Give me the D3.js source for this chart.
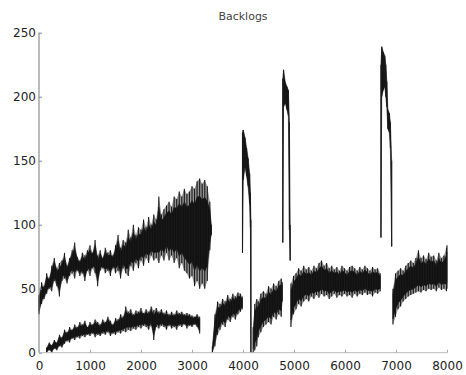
<!DOCTYPE html>
<html>
<head>
<meta charset="utf-8">
<script src="https://cdn.jsdelivr.net/npm/d3@7"></script>
<style>
  html, body { margin: 0; padding: 0; background: #fff; }
  svg { display: block; }
  .tick text { font-family: "DejaVu Sans", sans-serif; font-size: 12px; fill: #222; }
</style>
</head>
<body>
<svg id="chart" width="466" height="375"></svg>
<script>
// ---- data: envelope of the backlog trace, [x, high, low] ----
const xTicks = [0, 1000, 2000, 3000, 4000, 5000, 6000, 7000, 8000];
const yTicks = [0, 50, 100, 150, 200, 250];
const titleText = "Backlogs";

const upperA = [
  [0,45,30],[50,55,38],[100,52,42],[150,62,46],[200,58,50],[250,68,48],[300,74,56],[350,66,52],
  [400,70,44],[450,72,56],[500,78,58],[550,68,54],[600,74,60],[650,80,62],[700,86,58],[750,75,64],
  [800,72,60],[850,78,62],[900,76,56],[950,80,64],[1000,84,60],[1050,78,66],[1100,88,62],[1150,76,52],
  [1200,80,64],[1250,74,66],[1300,82,62],[1350,78,64],[1400,80,60],[1450,76,66],[1500,84,62],[1550,92,64],
  [1600,82,58],[1650,88,66],[1700,86,62],[1750,96,60],[1800,90,68],[1850,100,64],[1900,92,70],[1950,98,66],
  [2000,96,72],[2050,104,68],[2100,98,74],[2150,106,70],[2200,100,76],[2250,108,72],[2300,104,74],[2350,122,70],
  [2400,108,76],[2450,112,72],[2500,115,78],[2550,118,72],[2600,114,76],[2650,122,70],[2700,120,74],[2750,126,66],
  [2800,122,70],[2850,128,64],[2900,124,62],[2950,126,58],[3000,130,60],[3050,128,52],[3100,134,56],[3150,136,50],
  [3200,132,54],[3250,135,50],[3300,130,56],[3350,118,80],[3380,100,92]
];
const lower1 = [
  [150,4,0],[200,8,2],[250,6,0],[300,10,3],[350,8,2],[400,14,5],[450,12,4],[500,18,7],
  [550,16,9],[600,20,8],[650,18,11],[700,22,10],[750,20,12],[800,24,11],[850,22,13],[900,25,12],
  [950,20,14],[1000,24,13],[1050,22,15],[1100,26,12],[1150,24,14],[1200,22,13],[1250,26,15],[1300,24,14],
  [1350,28,16],[1400,25,13],[1450,22,15],[1500,27,14],[1550,26,16],[1600,30,15],[1650,28,17],[1700,36,16],
  [1750,32,18],[1800,34,17],[1850,30,19],[1900,33,18],[1950,32,20],[2000,35,19],[2050,31,21],[2100,34,20],
  [2150,32,18],[2200,36,21],[2250,33,10],[2300,35,20],[2350,32,19],[2400,34,21],[2450,31,20],[2500,33,18],
  [2550,30,21],[2600,32,19],[2650,30,20],[2700,33,18],[2750,31,21],[2800,32,20],[2850,30,22],[2900,31,19],
  [2950,30,21],[3000,29,20],[3050,28,22],[3100,30,20],[3150,28,15]
];
const lower2 = [
  [3400,5,0],[3450,30,5],[3500,40,14],[3550,38,18],[3600,42,22],[3650,40,20],[3700,45,26],
  [3750,42,24],[3800,46,28],[3850,44,26],[3900,47,30],[3950,46,32],[3985,44,34]
];
const spike1 = [
  [3990,172,78],[4005,174,135],[4040,168,145],[4070,160,138],[4100,152,130],[4130,140,116],[4145,125,98],[4155,104,0]
];
const lower3 = [
  [4200,20,0],[4230,38,2],[4270,42,5],[4300,40,12],[4350,46,16],[4400,48,20],[4450,46,22],
  [4500,52,24],[4550,50,22],[4600,54,28],[4650,52,26],[4700,56,30],[4750,58,28],[4770,55,40]
];
const spike2 = [
  [4780,214,86],[4795,221,192],[4830,211,195],[4860,208,190],[4890,205,185],[4910,180,96],[4925,100,72]
];
const lower4 = [
  [4940,54,20],[4990,60,30],[5040,62,34],[5090,66,38],[5140,64,36],[5190,68,40],[5240,65,42],[5290,67,40],
  [5340,64,44],[5390,68,42],[5440,66,45],[5490,70,43],[5540,72,46],[5590,68,44],[5640,70,45],[5690,66,42],
  [5740,68,44],[5790,65,46],[5840,67,43],[5890,64,45],[5940,68,44],[5990,66,46],[6040,64,44],[6090,67,45],
  [6140,68,43],[6190,66,46],[6240,64,44],[6290,67,46],[6340,65,45],[6390,68,47],[6440,66,45],[6490,64,46],
  [6540,67,44],[6590,65,47],[6640,66,46],[6690,62,48]
];
const spike3 = [
  [6705,225,90],[6720,239,200],[6750,235,205],[6780,232,208],[6800,225,200],[6820,212,192],
  [6840,190,175],[6870,187,172],[6890,180,160],[6915,150,83]
];
const lower5 = [
  [6940,50,22],[6990,62,28],[7040,64,34],[7090,66,36],[7140,64,40],[7190,68,42],[7240,70,44],[7290,72,45],
  [7340,70,46],[7390,74,47],[7440,80,48],[7490,74,47],[7540,76,49],[7590,73,48],[7640,78,50],[7690,75,49],
  [7740,76,50],[7790,72,48],[7840,78,51],[7890,74,49],[7940,76,50],[7990,82,48],[8000,84,50]
];
const bands = [upperA, lower1, lower2, lower3, lower4, lower5];
const spikes = [spike1, spike2, spike3];

// ---- drawing ----
const svg = d3.select("#chart");
const x = d3.scaleLinear().domain([0, 8000]).range([39, 447]);
const y = d3.scaleLinear().domain([0, 250]).range([352.7, 32.7]);

const inset = 0.16; // dense core of the noisy trace, drawn inside its envelope
const coreArea = d3.area()
  .x(d => x(d[0]))
  .y0(d => y(d[2] + (d[1] - d[2]) * inset))
  .y1(d => y(d[1] - (d[1] - d[2]) * inset));
const fullArea = d3.area()
  .x(d => x(d[0]))
  .y0(d => y(d[2]))
  .y1(d => y(d[1]));

const g = svg.append("g");
function hairlines(seg) {
  g.selectAll(null)
    .data(seg)
    .enter().append("line")
    .attr("x1", d => x(d[0])).attr("x2", d => x(d[0]))
    .attr("y1", d => y(d[1])).attr("y2", d => y(d[2]))
    .attr("stroke", "#1a1a1a")
    .attr("stroke-width", 1.1);
}
bands.forEach(seg => {
  g.append("path")
    .attr("d", fullArea(seg))
    .attr("fill", "#111")
    .attr("fill-opacity", 0.45);
  g.append("path")
    .attr("d", coreArea(seg))
    .attr("fill", "#111")
    .attr("stroke", "#111")
    .attr("stroke-width", 0.6);
  hairlines(seg);
});
spikes.forEach(seg => {
  g.append("path")
    .attr("d", fullArea(seg))
    .attr("fill", "#111")
    .attr("stroke", "#111")
    .attr("stroke-width", 0.6);
  hairlines(seg);
});

// axes
const yAxis = d3.axisLeft(y).tickValues(yTicks).tickSize(-3).tickPadding(3).tickFormat(d3.format("d"));
const yg = svg.append("g").attr("transform", "translate(39,0)").call(yAxis);
yg.select(".domain").attr("stroke", "#777").attr("d", `M0,${y(250)}V${y(0)}`);
yg.selectAll(".tick line").attr("stroke", "#888");

const xAxis = d3.axisBottom(x).tickValues(xTicks).tickSize(-3).tickPadding(9).tickFormat(d3.format("d"));
const xg = svg.append("g").attr("transform", `translate(0,${y(0)})`).call(xAxis);
xg.select(".domain").attr("stroke", "#bbb").attr("d", `M${x(0)},0H${x(8000)}`);
xg.selectAll(".tick line").attr("stroke", "#aaa");

svg.append("text")
  .attr("x", (x(0) + x(8000)) / 2)
  .attr("y", 20)
  .attr("text-anchor", "middle")
  .attr("font-family", "DejaVu Sans, sans-serif")
  .attr("font-size", 11)
  .attr("fill", "#444")
  .text(titleText);
</script>
</body>
</html>
